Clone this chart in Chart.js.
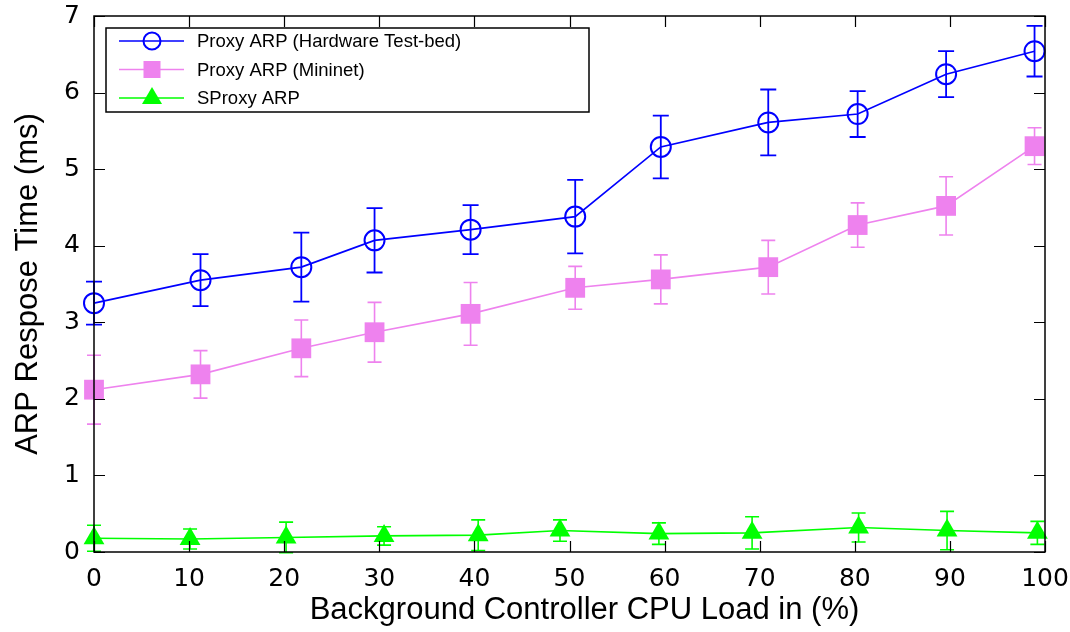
<!DOCTYPE html>
<html>
<head>
<meta charset="utf-8">
<script src="https://cdn.jsdelivr.net/npm/chart.js@4"></script>
<style>
  html, body { margin: 0; padding: 0; background: #ffffff; }
  #wrap { width: 1070px; height: 632px; }
</style>
</head>
<body>
<div id="wrap"><canvas id="c" width="1070" height="632"></canvas></div>
<script>
// CPU load (%) where each series was measured
const loadHardware = [0, 11.2, 21.8, 29.5, 39.6, 50.6, 59.6, 70.9, 80.3, 89.6, 98.9];
const loadMininet  = [0, 11.2, 21.8, 29.5, 39.6, 50.6, 59.6, 70.9, 80.3, 89.6, 98.9];
const loadSProxy   = [0, 10.1, 20.2, 30.5, 40.4, 49.0, 59.4, 69.2, 80.4, 89.7, 99.2];

// Mean ARP response time (ms)
const timeHardware = [3.25, 3.55, 3.72, 4.07, 4.21, 4.38, 5.29, 5.61, 5.72, 6.24, 6.54];
const timeMininet  = [2.12, 2.32, 2.66, 2.87, 3.11, 3.45, 3.56, 3.72, 4.27, 4.52, 5.30];
const timeSProxy   = [0.18, 0.17, 0.19, 0.21, 0.22, 0.28, 0.24, 0.25, 0.32, 0.28, 0.25];

// Error half-widths (ms)
const errHardware = [0.28, 0.34, 0.45, 0.42, 0.32, 0.48, 0.41, 0.43, 0.30, 0.30, 0.33];
const errMininet  = [0.45, 0.31, 0.37, 0.39, 0.41, 0.28, 0.32, 0.35, 0.29, 0.38, 0.24];
const errSProxy   = [0.17, 0.13, 0.20, 0.12, 0.20, 0.14, 0.14, 0.21, 0.19, 0.25, 0.15];

const seriesNames = ['Proxy ARP (Hardware Test-bed)', 'Proxy ARP (Mininet)', 'SProxy ARP'];
const xTitle = 'Background Controller CPU Load in (%)';
const yTitle = 'ARP Respose Time (ms)';

const pts = (xs, ys) => xs.map((x, i) => ({ x: x, y: ys[i] }));

const BLUE = '#0000ff', VIOLET = '#ee82ee', GREEN = '#00ff00';
const TITLE_FONT = '31px "Liberation Sans", Arial, sans-serif';

// Vertical error bars with caps, drawn under the markers
const errorBars = {
  id: 'errorBars',
  beforeDatasetsDraw(chart) {
    const ctx = chart.ctx;
    const xs = chart.scales.x, ys = chart.scales.y;
    chart.data.datasets.forEach((ds) => {
      const errs = ds.errors;
      ctx.save();
      ctx.strokeStyle = ds.borderColor;
      ctx.lineWidth = ds.errorWidth;
      ds.data.forEach((p, i) => {
        const px = xs.getPixelForValue(p.x);
        const top = ys.getPixelForValue(p.y + errs[i]);
        const bot = ys.getPixelForValue(Math.max(p.y - errs[i], -0.02));
        const cap = ds.capHalf;
        ctx.beginPath();
        ctx.moveTo(px, top); ctx.lineTo(px, bot);
        ctx.moveTo(px - cap, top); ctx.lineTo(px + cap, top);
        if (p.y - errs[i] > -0.02) { ctx.moveTo(px - cap, bot); ctx.lineTo(px + cap, bot); }
        ctx.stroke();
      });
      ctx.restore();
    });
  }
};

// Frame, inward ticks on all four sides, x-axis title and the boxed key
const frame = {
  id: 'frame',
  afterDraw(chart) {
    const ctx = chart.ctx;
    const a = chart.chartArea;
    const xs = chart.scales.x, ys = chart.scales.y;
    const tl = 11;
    ctx.save();
    ctx.strokeStyle = '#000';
    ctx.lineWidth = 1.2;
    ctx.beginPath();
    xs.ticks.forEach(t => {
      const px = Math.round(xs.getPixelForValue(t.value)) + 0.5;
      ctx.moveTo(px, a.bottom); ctx.lineTo(px, a.bottom - tl);
      ctx.moveTo(px, a.top); ctx.lineTo(px, a.top + tl);
    });
    ys.ticks.forEach(t => {
      const py = Math.round(ys.getPixelForValue(t.value)) + 0.5;
      ctx.moveTo(a.left, py); ctx.lineTo(a.left + tl, py);
      ctx.moveTo(a.right, py); ctx.lineTo(a.right - tl, py);
    });
    ctx.stroke();
    ctx.lineWidth = 1.5;
    ctx.strokeRect(a.left, a.top, a.right - a.left, a.bottom - a.top);

    // x-axis title, set a little right of the plot centre
    ctx.fillStyle = '#000';
    ctx.font = TITLE_FONT;
    ctx.textAlign = 'center';
    ctx.textBaseline = 'middle';
    ctx.fillText(xTitle, (a.left + a.right) / 2 + 15, a.bottom + 58);

    // key
    const bx = a.left + 12, by = a.top + 12, bw = 483, bh = 84;
    ctx.fillStyle = '#fff';
    ctx.fillRect(bx, by, bw, bh);
    ctx.lineWidth = 1.5;
    ctx.strokeRect(bx, by, bw, bh);
    ctx.font = '18.5px "Liberation Sans", Arial, sans-serif';
    ctx.textBaseline = 'middle';
    ctx.textAlign = 'left';
    chart.data.datasets.forEach((ds, i) => {
      const cy = by + 13 + i * 28.5;
      ctx.strokeStyle = ds.borderColor;
      ctx.lineWidth = 1.5;
      ctx.beginPath();
      ctx.moveTo(bx + 13, cy); ctx.lineTo(bx + 78, cy);
      ctx.stroke();
      const mx = bx + 46;
      if (ds.pointStyle === 'circle') {
        ctx.lineWidth = 2;
        ctx.beginPath(); ctx.arc(mx, cy, 8.5, 0, Math.PI * 2); ctx.stroke();
      } else if (ds.pointStyle === 'rect') {
        ctx.fillStyle = ds.pointBackgroundColor;
        ctx.fillRect(mx - 8.5, cy - 8.5, 17, 17);
      } else {
        ctx.fillStyle = ds.pointBackgroundColor;
        ctx.beginPath();
        ctx.moveTo(mx, cy - 11); ctx.lineTo(mx + 10, cy + 6); ctx.lineTo(mx - 10, cy + 6);
        ctx.closePath(); ctx.fill();
      }
      ctx.fillStyle = '#000';
      ctx.fillText(ds.label, bx + 91, cy + 1);
    });
    ctx.restore();
  }
};

new Chart(document.getElementById('c'), {
  type: 'line',
  data: {
    datasets: [
      {
        label: seriesNames[0], data: pts(loadHardware, timeHardware), errors: errHardware,
        borderColor: BLUE, borderWidth: 1.7, pointStyle: 'circle', pointRadius: 10,
        pointBorderWidth: 2, pointBackgroundColor: 'rgba(0,0,0,0)', pointBorderColor: BLUE,
        errorWidth: 1.8, capHalf: 8, clip: false, tension: 0
      },
      {
        label: seriesNames[1], data: pts(loadMininet, timeMininet), errors: errMininet,
        borderColor: VIOLET, borderWidth: 1.6, pointStyle: 'rect', pointRadius: 14,
        pointBorderWidth: 0, pointBackgroundColor: VIOLET, pointBorderColor: VIOLET,
        errorWidth: 1.6, capHalf: 7, clip: false, tension: 0
      },
      {
        label: seriesNames[2], data: pts(loadSProxy, timeSProxy), errors: errSProxy,
        borderColor: GREEN, borderWidth: 1.6, pointStyle: 'triangle', pointRadius: 12,
        pointBorderWidth: 0, pointBackgroundColor: GREEN, pointBorderColor: GREEN,
        errorWidth: 1.6, capHalf: 7, clip: false, tension: 0
      }
    ]
  },
  options: {
    responsive: false,
    animation: false,
    layout: { padding: { left: 0, top: 16, right: 25, bottom: 0 } },
    plugins: { legend: { display: false }, tooltip: { enabled: false } },
    scales: {
      x: {
        type: 'linear', min: 0, max: 100,
        grid: { display: false, drawTicks: false },
        border: { display: false },
        ticks: { stepSize: 10, padding: 12, color: '#000',
                 font: { family: '"DejaVu Sans", sans-serif', size: 25 } },
        title: { display: false, text: xTitle },
        afterFit: s => { s.height = 80; s.paddingLeft = 0; s.paddingRight = 0; }
      },
      y: {
        type: 'linear', min: 0, max: 7,
        grid: { display: false, drawTicks: false },
        border: { display: false },
        ticks: { stepSize: 1, padding: 14, color: '#000',
                 font: { family: '"DejaVu Sans", sans-serif', size: 25 } },
        title: { display: true, text: yTitle, color: '#000', padding: { top: 10, bottom: 0 },
                 font: { family: '"Liberation Sans", Arial, sans-serif', size: 31 } },
        afterFit: s => { s.width = 94; s.paddingTop = 0; s.paddingBottom = 0; }
      }
    }
  },
  plugins: [errorBars, frame]
});
</script>
</body>
</html>
